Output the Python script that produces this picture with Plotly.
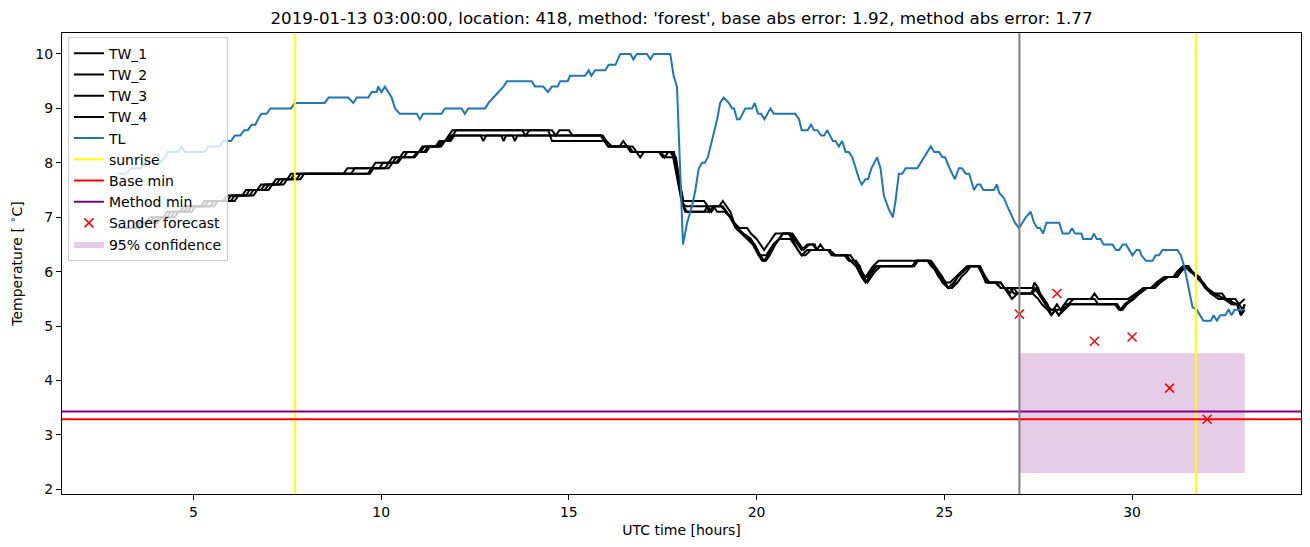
import plotly.graph_objects as go

# ---------------- data ----------------
TITLE = "2019-01-13 03:00:00, location: 418, method: 'forest', base abs error: 1.92, method abs error: 1.77"

tl_t = [3.0, 3.2, 3.35, 3.6, 3.7, 4.1, 4.25, 4.32, 4.6, 4.68, 4.77, 5.3, 5.4, 5.7, 5.8, 6.0, 6.1, 6.25, 6.35, 6.45,
        6.55, 6.65, 6.72, 6.81, 6.95, 7.05, 7.6, 7.7, 8.5, 8.6, 9.12, 9.26, 9.35, 9.66, 9.75, 9.88, 9.92, 10.01, 10.1,
        10.19, 10.28, 10.37, 10.5, 10.95, 11.03, 11.12, 11.61, 11.7, 12.14, 12.23, 12.32, 12.77, 12.86, 12.99, 13.13,
        13.26, 13.35, 14.01, 14.1, 14.32, 14.44, 14.55, 14.7, 14.77, 14.97, 15.03, 15.43, 15.53, 15.6, 15.7, 15.97,
        16.06, 16.24, 16.3, 16.37, 16.64, 16.72, 16.81, 17.08, 17.17, 17.26, 17.7, 17.79, 17.88, 18.04, 18.15, 18.28,
        18.37, 18.46, 18.55, 18.62, 18.7, 18.81, 18.95, 19.03, 19.12, 19.26, 19.35, 19.4, 19.48, 19.55, 19.7, 19.88,
        19.95, 20.04, 20.12, 20.21, 20.37, 20.46, 21.03, 21.13, 21.2, 21.36, 21.45, 21.53, 21.62, 21.72, 21.8, 21.88,
        22.03, 22.1, 22.19, 22.28, 22.37, 22.46, 22.55, 22.73, 22.8, 22.9, 22.97, 23.06, 23.21, 23.3, 23.39, 23.52,
        23.63, 23.7, 23.79, 23.88, 23.97, 24.28, 24.64, 24.73, 24.86, 24.95, 25.02, 25.14, 25.28, 25.39, 25.47,
        25.57, 25.66, 25.79, 25.88, 25.96, 26.04, 26.32, 26.4, 26.46, 26.59, 26.68, 26.77, 26.88, 26.99, 27.08,
        27.17, 27.3, 27.39, 27.48, 27.55, 27.63, 27.72, 28.06, 28.15, 28.32, 28.4, 28.48, 28.65, 28.7, 28.92, 28.98,
        29.06, 29.16, 29.24, 29.48, 29.57, 29.66, 29.75, 29.84, 29.93, 30.01, 30.12, 30.2, 30.25, 30.37, 30.55, 30.63,
        30.72, 30.81, 31.21, 31.3, 31.39, 31.52, 31.61, 31.72, 31.8, 31.9, 32.1, 32.17, 32.26, 32.35, 32.48, 32.57,
        32.65, 32.73, 33.0]
tl_v = [7.8, 7.8, 7.9, 7.9, 8.0, 8.0, 8.1, 8.2, 8.2, 8.3, 8.2, 8.2, 8.3, 8.3, 8.4, 8.4, 8.5, 8.5, 8.6, 8.6,
        8.7, 8.7, 8.8, 8.9, 8.9, 9.0, 9.0, 9.1, 9.1, 9.2, 9.2, 9.1, 9.2, 9.2, 9.3, 9.3, 9.4, 9.3, 9.4,
        9.3, 9.2, 9.0, 8.9, 8.9, 8.8, 8.9, 8.9, 9.0, 9.0, 8.9, 9.0, 9.0, 9.1, 9.2, 9.3,
        9.4, 9.5, 9.5, 9.4, 9.4, 9.3, 9.4, 9.4, 9.5, 9.5, 9.6, 9.6, 9.7, 9.6, 9.7, 9.7,
        9.8, 9.8, 9.9, 10.0, 10.0, 9.9, 10.0, 10.0, 9.9, 10.0, 10.0, 9.6, 9.4, 6.5, 6.9, 7.2,
        7.5, 7.9, 8.0, 8.0, 8.1, 8.4, 8.8, 9.1, 9.2, 9.1, 9.0, 9.0, 8.8, 8.8, 9.0, 9.0,
        9.1, 8.9, 8.9, 8.8, 9.0, 8.9, 8.9, 8.8, 8.6, 8.6, 8.7, 8.6, 8.6, 8.5, 8.5, 8.6,
        8.4, 8.4, 8.3, 8.4, 8.2, 8.2, 8.1, 7.7, 7.6, 7.7, 7.7, 7.9, 8.1, 7.9, 7.4, 7.15,
        7.0, 7.3, 7.8, 7.8, 7.9, 7.9, 8.3, 8.2, 8.2, 8.1, 8.1, 7.9, 7.7, 7.9, 7.9,
        7.8, 7.8, 7.5, 7.6, 7.6, 7.5, 7.5, 7.6, 7.45, 7.35, 7.2, 7.05, 6.9, 6.8, 6.9,
        7.0, 7.1, 6.9, 6.8, 6.8, 6.7, 6.9, 6.9, 6.7, 6.7, 6.8, 6.7, 6.7, 6.6, 6.6, 6.7,
        6.6, 6.6, 6.5, 6.5, 6.4, 6.4, 6.5, 6.5, 6.4, 6.3, 6.4, 6.4, 6.3, 6.2, 6.2, 6.3,
        6.3, 6.4, 6.4, 6.3, 6.1, 5.65, 5.35, 5.3, 5.2, 5.1, 5.1, 5.2, 5.1, 5.2, 5.2, 5.3,
        5.2, 5.3, 5.3]

tw1 = [(3.0, 6.8), (3.35, 6.8), (3.45, 6.9), (3.75, 6.9), (3.85, 7.0), (4.2, 7.0), (4.3, 7.1), (4.65, 7.1),
       (4.75, 7.2), (5.2, 7.2), (5.3, 7.3), (5.8, 7.3), (5.9, 7.4), (6.3, 7.4), (6.4, 7.5), (6.7, 7.5), (6.8, 7.6),
       (7.1, 7.6), (7.2, 7.7), (7.5, 7.7), (7.6, 7.8), (9.0, 7.8), (9.1, 7.9), (9.75, 7.9), (9.85, 8.0), (10.2, 8.0),
       (10.3, 8.1), (10.5, 8.1), (10.6, 8.2), (11.0, 8.2), (11.1, 8.3), (11.45, 8.3), (11.55, 8.4), (11.7, 8.4),
       (11.8, 8.5), (11.9, 8.6), (13.75, 8.6), (13.85, 8.5), (13.95, 8.6), (14.55, 8.6), (14.65, 8.5), (14.75, 8.6),
       (15.0, 8.6), (15.1, 8.5), (15.85, 8.5), (15.95, 8.4), (16.05, 8.3), (16.35, 8.3), (16.45, 8.4), (16.55, 8.3),
       (16.65, 8.2), (17.45, 8.2), (17.55, 8.1), (17.65, 8.2), (17.8, 8.2), (18.05, 7.3), (18.6, 7.3), (18.7, 7.2),
       (19.0, 7.2), (19.1, 7.3), (19.2, 7.2), (19.3, 7.1), (19.4, 6.9), (19.55, 6.8), (19.75, 6.8), (19.85, 6.7),
       (20.0, 6.6), (20.1, 6.5), (20.2, 6.4), (20.3, 6.5), (20.4, 6.6), (20.5, 6.7), (20.9, 6.7), (21.0, 6.6),
       (21.1, 6.5), (21.2, 6.4), (21.35, 6.5), (21.55, 6.5), (21.6, 6.4), (21.7, 6.5), (21.8, 6.4), (21.95, 6.4),
       (22.05, 6.3), (22.35, 6.3), (22.45, 6.2), (22.6, 6.2), (22.7, 6.1), (22.8, 6.0), (22.9, 5.9), (23.0, 6.0),
       (23.1, 6.1), (23.25, 6.2), (24.6, 6.2), (24.7, 6.1), (24.8, 6.0), (24.9, 5.9), (25.05, 5.8), (25.15, 5.8),
       (25.3, 5.9), (25.45, 6.0), (25.6, 6.1), (25.9, 6.1), (26.0, 6.0), (26.1, 5.8), (26.4, 5.8), (26.5, 5.7),
       (26.65, 5.7), (26.75, 5.6), (26.85, 5.7), (27.35, 5.7), (27.4, 5.8), (27.5, 5.7), (27.6, 5.5), (27.7, 5.4),
       (27.8, 5.3), (27.9, 5.3), (28.0, 5.4), (28.1, 5.3), (28.2, 5.4), (28.3, 5.5), (28.9, 5.5), (29.0, 5.6),
       (29.1, 5.5), (29.9, 5.5), (30.1, 5.6), (30.3, 5.7), (30.5, 5.7), (30.65, 5.8), (30.85, 5.9), (31.1, 5.9),
       (31.2, 6.0), (31.35, 6.1), (31.5, 6.1), (31.6, 6.0), (31.7, 5.9), (31.85, 5.8), (32.0, 5.7), (32.1, 5.6),
       (32.4, 5.6), (32.5, 5.5), (32.75, 5.5), (32.85, 5.4), (33.0, 5.5)]

tw2 = [(3.0, 6.8), (3.45, 6.8), (3.55, 6.9), (3.85, 6.9), (3.95, 7.0), (4.3, 7.0), (4.4, 7.1), (4.75, 7.1),
       (4.85, 7.2), (5.3, 7.2), (5.4, 7.3), (5.9, 7.3), (6.0, 7.4), (6.4, 7.4), (6.5, 7.5), (6.8, 7.5), (6.9, 7.6),
       (7.2, 7.6), (7.3, 7.7), (7.6, 7.7), (7.7, 7.8), (9.2, 7.8), (9.3, 7.9), (9.95, 7.9), (10.05, 8.0), (10.3, 8.0),
       (10.4, 8.1), (10.6, 8.1), (10.7, 8.2), (11.05, 8.2), (11.15, 8.3), (11.5, 8.3), (11.6, 8.4), (11.75, 8.4),
       (11.85, 8.5), (12.65, 8.5), (12.72, 8.4), (12.8, 8.5), (13.5, 8.5), (13.56, 8.4), (13.63, 8.5), (15.85, 8.5),
       (15.95, 8.4), (16.05, 8.3), (16.55, 8.3), (16.65, 8.2), (16.8, 8.2), (16.9, 8.1), (17.0, 8.2), (17.75, 8.2),
       (18.0, 7.3), (18.1, 7.2), (18.65, 7.2), (18.75, 7.1), (18.85, 7.2), (19.1, 7.2), (19.3, 7.0), (19.45, 6.8),
       (19.6, 6.7), (19.8, 6.6), (19.95, 6.5), (20.1, 6.3), (20.25, 6.3), (20.35, 6.4), (20.45, 6.5), (20.6, 6.6),
       (20.7, 6.7), (20.95, 6.7), (21.05, 6.6), (21.15, 6.5), (21.25, 6.4), (21.4, 6.5), (21.5, 6.5), (21.6, 6.4),
       (21.95, 6.4), (22.05, 6.3), (22.4, 6.3), (22.5, 6.2), (22.65, 6.2), (22.75, 6.1), (22.85, 5.9), (22.95, 5.9),
       (23.05, 6.0), (23.15, 6.1), (24.15, 6.1), (24.25, 6.2), (24.65, 6.2), (24.75, 6.1), (24.85, 6.0), (24.95, 5.9),
       (25.1, 5.7), (25.2, 5.7), (25.35, 5.9), (25.5, 6.0), (25.65, 6.1), (25.95, 6.1), (26.05, 5.9), (26.15, 5.8),
       (26.5, 5.8), (26.6, 5.7), (26.8, 5.5), (26.95, 5.6), (27.35, 5.6), (27.45, 5.7), (27.55, 5.6), (27.65, 5.5),
       (27.75, 5.4), (27.85, 5.2), (27.95, 5.3), (28.05, 5.2), (28.15, 5.3), (28.3, 5.4), (28.45, 5.5), (29.0, 5.5),
       (29.1, 5.4), (29.6, 5.4), (29.7, 5.3), (29.8, 5.4), (30.0, 5.5), (30.15, 5.6), (30.35, 5.7), (30.55, 5.7),
       (30.7, 5.8), (30.9, 5.9), (31.2, 5.9), (31.3, 6.0), (31.4, 6.1), (31.55, 6.0), (31.75, 5.9), (31.85, 5.8),
       (31.95, 5.7), (32.15, 5.6), (32.5, 5.5), (32.8, 5.4), (32.9, 5.2), (33.0, 5.3)]

tw3 = [(3.0, 6.8), (3.5, 6.8), (3.6, 6.9), (3.95, 6.9), (4.05, 7.0), (4.4, 7.0), (4.5, 7.1), (4.85, 7.1),
       (4.95, 7.2), (5.45, 7.2), (5.55, 7.3), (6.0, 7.3), (6.1, 7.4), (6.5, 7.4), (6.6, 7.5), (6.9, 7.5), (7.0, 7.6),
       (7.3, 7.6), (7.4, 7.7), (7.75, 7.7), (7.85, 7.8), (9.65, 7.8), (9.75, 7.9), (10.1, 7.9), (10.2, 8.0),
       (10.4, 8.0), (10.5, 8.1), (10.85, 8.1), (10.95, 8.2), (11.15, 8.2), (11.25, 8.3), (11.55, 8.3), (11.65, 8.4),
       (11.8, 8.4), (11.9, 8.5), (12.0, 8.6), (14.45, 8.6), (14.55, 8.4), (15.95, 8.4), (16.05, 8.3), (16.6, 8.3),
       (16.7, 8.2), (17.7, 8.2), (17.8, 8.1), (18.05, 7.2), (18.15, 7.1), (18.75, 7.1), (18.85, 7.2), (18.95, 7.1),
       (19.15, 7.1), (19.3, 7.0), (19.4, 6.9), (19.5, 6.8), (19.65, 6.7), (19.85, 6.6), (20.0, 6.4), (20.1, 6.3),
       (20.2, 6.2), (20.3, 6.3), (20.45, 6.5), (20.6, 6.6), (20.7, 6.7), (20.85, 6.7), (20.95, 6.6), (21.1, 6.4),
       (21.2, 6.3), (21.35, 6.4), (21.9, 6.4), (22.0, 6.3), (22.4, 6.3), (22.5, 6.2), (22.65, 6.1), (22.8, 5.9),
       (22.9, 5.8), (23.0, 5.9), (23.1, 6.0), (23.2, 6.1), (24.2, 6.1), (24.3, 6.2), (24.6, 6.2), (24.7, 6.1),
       (24.85, 5.9), (25.0, 5.8), (25.1, 5.7), (25.25, 5.8), (25.35, 5.9), (25.5, 6.0), (25.65, 6.1), (25.9, 6.1),
       (26.05, 5.9), (26.15, 5.8), (26.35, 5.8), (26.5, 5.7), (26.75, 5.7), (26.85, 5.6), (27.3, 5.6), (27.4, 5.7),
       (27.5, 5.6), (27.6, 5.5), (27.7, 5.4), (27.85, 5.3), (28.1, 5.3), (28.2, 5.4), (29.55, 5.4), (29.65, 5.3),
       (29.75, 5.3), (29.85, 5.4), (30.05, 5.5), (30.2, 5.6), (30.4, 5.7), (30.6, 5.7), (30.75, 5.8), (30.95, 5.9),
       (31.15, 5.9), (31.25, 6.0), (31.4, 6.1), (31.5, 6.1), (31.6, 6.0), (31.8, 5.9), (31.95, 5.7), (32.1, 5.6),
       (32.3, 5.5), (32.6, 5.5), (32.7, 5.4), (32.85, 5.4), (32.95, 5.3), (33.0, 5.4)]

tw4 = [(3.0, 6.8), (3.6, 6.8), (3.7, 6.9), (4.05, 6.9), (4.15, 7.0), (4.5, 7.0), (4.6, 7.1), (4.95, 7.1),
       (5.05, 7.2), (5.55, 7.2), (5.65, 7.3), (6.1, 7.3), (6.2, 7.4), (6.6, 7.4), (6.7, 7.5), (7.0, 7.5), (7.1, 7.6),
       (7.4, 7.6), (7.5, 7.7), (7.85, 7.7), (7.95, 7.8), (9.7, 7.8), (9.8, 7.9), (10.2, 7.9), (10.3, 8.0),
       (10.45, 8.0), (10.55, 8.1), (10.9, 8.1), (11.0, 8.2), (11.2, 8.2), (11.3, 8.3), (11.6, 8.3), (11.7, 8.4),
       (11.85, 8.4), (11.95, 8.5), (13.2, 8.5), (13.26, 8.4), (13.33, 8.5), (15.9, 8.5), (16.0, 8.4), (16.15, 8.3),
       (16.7, 8.3), (16.8, 8.2), (17.4, 8.2), (17.5, 8.1), (17.85, 8.1), (18.05, 7.2), (18.1, 7.1), (18.6, 7.1),
       (18.7, 7.2), (18.8, 7.1), (18.9, 7.2), (19.05, 7.2), (19.2, 7.1), (19.3, 7.0), (19.45, 6.8), (19.6, 6.7),
       (19.75, 6.6), (19.9, 6.5), (20.05, 6.3), (20.15, 6.2), (20.25, 6.2), (20.35, 6.3), (20.5, 6.5), (20.6, 6.6),
       (20.9, 6.6), (21.0, 6.5), (21.1, 6.4), (21.2, 6.3), (21.3, 6.3), (21.45, 6.4), (21.95, 6.4), (22.1, 6.3),
       (22.5, 6.3), (22.6, 6.2), (22.7, 6.1), (22.85, 5.9), (22.95, 5.8), (23.05, 5.9), (23.15, 6.0), (23.3, 6.1),
       (24.15, 6.1), (24.25, 6.2), (24.55, 6.2), (24.65, 6.1), (24.8, 6.0), (24.95, 5.8), (25.1, 5.7), (25.2, 5.7),
       (25.35, 5.8), (25.45, 5.9), (25.6, 6.0), (25.7, 6.1), (25.95, 6.1), (26.1, 5.9), (26.2, 5.8), (26.5, 5.8),
       (26.6, 5.7), (26.85, 5.7), (26.95, 5.6), (27.35, 5.6), (27.5, 5.5), (27.6, 5.4), (27.75, 5.3), (27.85, 5.2),
       (27.95, 5.3), (28.05, 5.2), (28.2, 5.3), (28.35, 5.4), (29.6, 5.4), (29.7, 5.3), (29.85, 5.4), (30.0, 5.5),
       (30.2, 5.6), (30.4, 5.7), (30.6, 5.7), (30.75, 5.8), (30.95, 5.9), (31.2, 5.9), (31.3, 6.0), (31.45, 6.1),
       (31.6, 6.0), (31.75, 5.9), (31.9, 5.8), (32.0, 5.7), (32.2, 5.6), (32.45, 5.5), (32.65, 5.4), (32.8, 5.4),
       (32.9, 5.2), (33.0, 5.4)]

sunrise_times = [7.7, 31.7]
forecast_time = 27.0
base_min = 3.29
method_min = 3.43
sander_t = [27, 28, 29, 30, 31, 32]
sander_v = [5.22, 5.60, 4.72, 4.80, 3.86, 3.29]
conf_t = [27.0, 33.0]
conf_lo = 2.3
conf_hi = 4.5

# ---------------- figure ----------------
FONT = "DejaVu Sans"
fig = go.Figure()

for i, tw in enumerate([tw1, tw2, tw3, tw4]):
    fig.add_trace(go.Scatter(x=[p[0] for p in tw], y=[p[1] for p in tw], mode="lines",
                             line=dict(color="black", width=2), name=f"TW_{i+1}",
                             legendgroup=f"g{i}", legendrank=i + 1))

fig.add_trace(go.Scatter(x=tl_t, y=tl_v, mode="lines", line=dict(color="#1f77b4", width=2),
                         name="TL", legendgroup="g4", legendrank=5))

# confidence band (fill)
cx = [conf_t[0], conf_t[1], conf_t[1], conf_t[0], conf_t[0]]
cy = [conf_lo, conf_lo, conf_hi, conf_hi, conf_lo]
fig.add_trace(go.Scatter(x=cx, y=cy, mode="lines", fill="toself", fillcolor="rgba(128,0,128,0.2)",
                         line=dict(width=0, color="rgba(128,0,128,0)"), name="95% confidence",
                         legendgroup="g9", legendrank=10))

# legend proxies for reference lines
fig.add_trace(go.Scatter(x=[None], y=[None], mode="lines", line=dict(color="yellow", width=2),
                         name="sunrise", legendgroup="g5", legendrank=6))
fig.add_trace(go.Scatter(x=[None], y=[None], mode="lines", line=dict(color="red", width=2),
                         name="Base min", legendgroup="g6", legendrank=7))
fig.add_trace(go.Scatter(x=[None], y=[None], mode="lines", line=dict(color="purple", width=2),
                         name="Method min", legendgroup="g7", legendrank=8))

fig.add_trace(go.Scatter(x=sander_t, y=sander_v, mode="markers",
                         marker=dict(symbol="x-thin", size=9, line=dict(color="red", width=1.5), color="red"),
                         name="Sander forecast", legendgroup="g8", legendrank=9))

shapes = []
for s in sunrise_times:
    shapes.append(dict(type="line", xref="x", yref="paper", x0=s, x1=s, y0=0, y1=1,
                       line=dict(color="yellow", width=2)))
shapes.append(dict(type="line", xref="paper", yref="y", x0=0, x1=1, y0=base_min, y1=base_min,
                   line=dict(color="red", width=2)))
shapes.append(dict(type="line", xref="paper", yref="y", x0=0, x1=1, y0=method_min, y1=method_min,
                   line=dict(color="purple", width=2)))
shapes.append(dict(type="line", xref="x", yref="paper", x0=forecast_time, x1=forecast_time, y0=0, y1=1,
                   line=dict(color="grey", width=2)))

xmin, xmax = 3.0, 33.0
ymin, ymax = conf_lo, 10.0
xpad = 0.05 * (xmax - xmin)
ypad = 0.05 * (ymax - ymin)

fig.update_layout(
    width=1310, height=547,
    margin=dict(l=62, r=9, t=33, b=53),
    paper_bgcolor="white", plot_bgcolor="white",
    font=dict(family=FONT, size=14, color="black"),
    title=dict(text=TITLE, x=0.5, xref="paper", xanchor="center", y=1 - 18 / 547, yanchor="middle",
               font=dict(size=16.7, family=FONT)),
    shapes=shapes,
    showlegend=True,
    legend=dict(x=0.0048, y=0.992, xanchor="left", yanchor="top", bgcolor="rgba(255,255,255,0.8)",
                bordercolor="#cccccc", borderwidth=1, font=dict(size=14, family=FONT),
                tracegroupgap=0, itemwidth=30),
    xaxis=dict(range=[xmin - xpad, xmax + xpad], tickvals=[5, 10, 15, 20, 25, 30], ticks="outside",
               ticklen=5, tickwidth=1, tickcolor="black", showline=True, linecolor="black", linewidth=1,
               mirror=True, showgrid=False, zeroline=False, tickfont=dict(size=14),
               title=dict(text="UTC time [hours]", standoff=6, font=dict(size=14))),
    yaxis=dict(range=[ymin - ypad, ymax + ypad], tickvals=[2, 3, 4, 5, 6, 7, 8, 9, 10], ticks="outside",
               ticklen=5, tickwidth=1, tickcolor="black", showline=True, linecolor="black", linewidth=1,
               mirror=True, showgrid=False, zeroline=False, tickfont=dict(size=14),
               title=dict(text="Temperature [ <sup>∘</sup>C]", standoff=9, font=dict(size=14))),
)

fig.write_html("out.html")
